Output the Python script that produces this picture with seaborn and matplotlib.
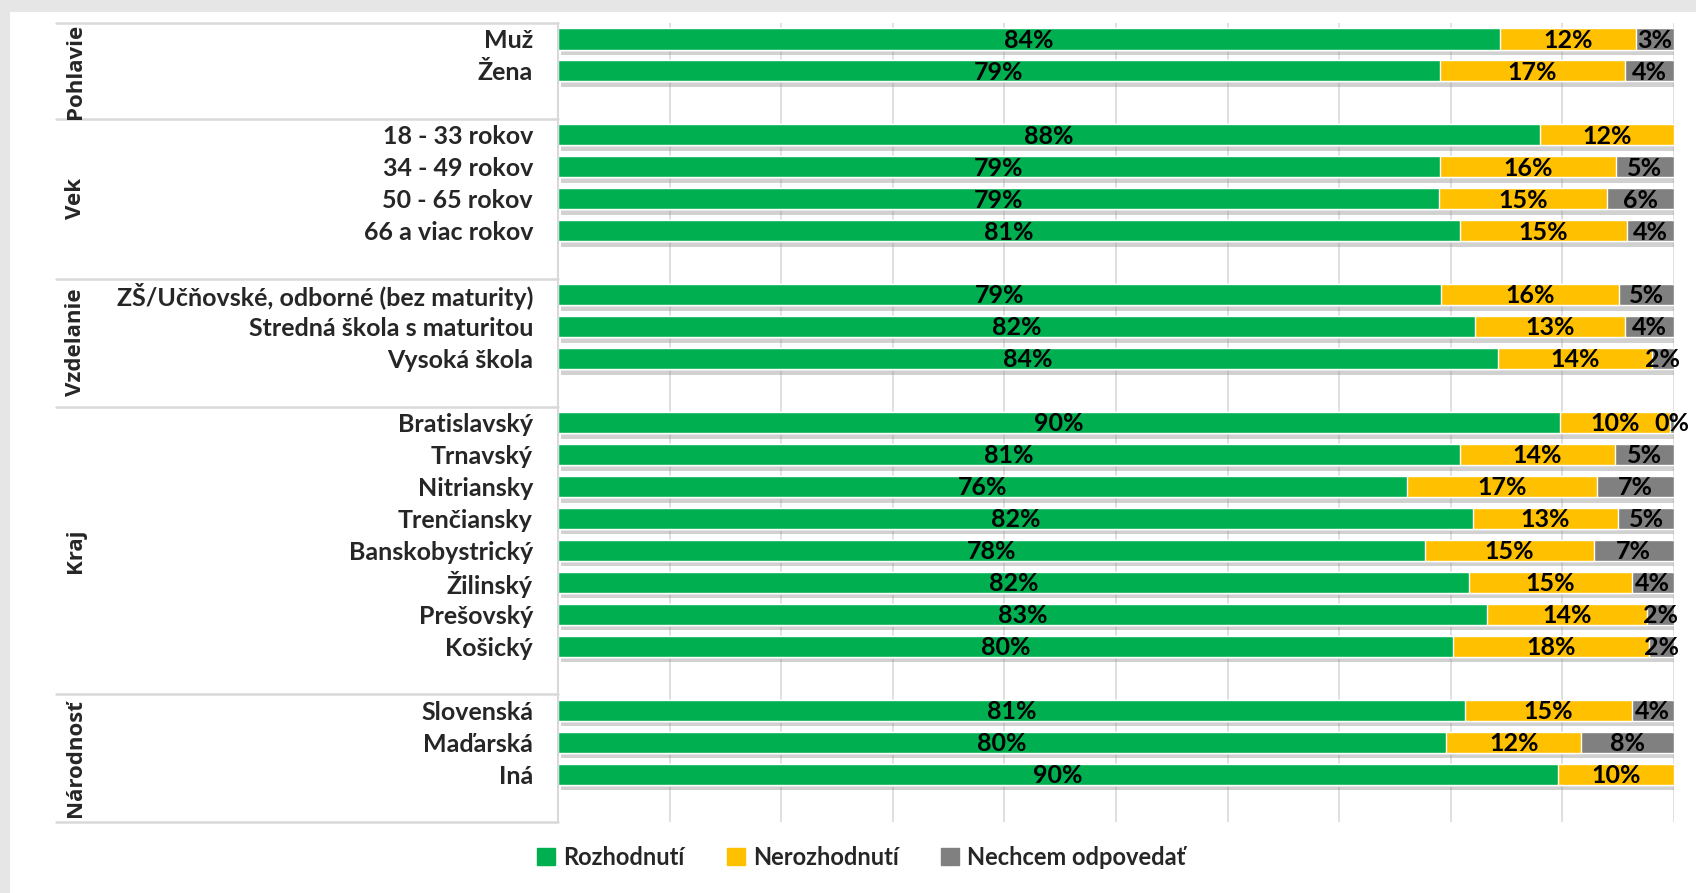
import pandas as pd
import matplotlib.pyplot as plt
import matplotlib.patheffects as pe
from matplotlib.patches import Rectangle
import seaborn as sns

sns.set_theme(style="white")
plt.rcParams['font.family'] = ['Lato', 'DejaVu Sans']

# rows per group (None = empty slot between groups)
groups = ['Pohlavie', 'Vek', 'Vzdelanie', 'Kraj', 'Národnosť']
rows = ['Muž', 'Žena', None,
        '18 - 33 rokov', '34 - 49 rokov', '50 - 65 rokov', '66 a viac rokov', None,
        'ZŠ/Učňovské, odborné (bez maturity)', 'Stredná škola s maturitou', 'Vysoká škola', None,
        'Bratislavský', 'Trnavský', 'Nitriansky', 'Trenčiansky', 'Banskobystrický',
        'Žilinský', 'Prešovský', 'Košický', None,
        'Slovenská', 'Maďarská', 'Iná', None]
group_sizes = [3, 5, 4, 9, 4]

rozhodnuti = [84.4, 79.0, 88.0, 79.0, 78.9, 80.8, 79.1, 82.2, 84.2,
              89.8, 80.8, 76.1, 82.0, 77.7, 81.6, 83.2, 80.2, 81.3, 79.6, 89.6]
nerozhodnuti = [12.2, 16.6, 12.0, 15.8, 15.1, 15.0, 16.0, 13.4, 13.8,
                9.8, 13.9, 17.0, 13.0, 15.1, 14.6, 14.4, 17.6, 14.9, 12.1, 10.4]
nechcem = [3.4, 4.4, 0.0, 5.2, 6.0, 4.2, 4.9, 4.4, 2.0,
           0.4, 5.3, 6.9, 5.0, 7.2, 3.8, 2.4, 2.2, 3.8, 8.3, 0.0]

series = ['Rozhodnutí', 'Nerozhodnutí', 'Nechcem odpovedať']
colors = ['#00B050', '#FFC000', '#808080']

# slot names (gaps get unique names so seaborn keeps them as empty categories)
slots = [r if r is not None else f'_gap{i}' for i, r in enumerate(rows)]
labels = [r for r in rows if r is not None]
df = pd.DataFrame({'row': labels, 'g': rozhodnuti, 'y': nerozhodnuti, 'n': nechcem})
df['gy'] = df['g'] + df['y']
df['gyn'] = df['gy'] + df['n']

fig = plt.figure(figsize=(16.96, 8.93), dpi=100, facecolor='#e6e6e6')
fig.patches.append(Rectangle((10 / 1696, 0), 1, 1 - 12 / 893, transform=fig.transFigure,
                             facecolor='white', edgecolor='none', zorder=-5))
ax = fig.add_axes([558 / 1696, 1 - 822 / 893, 1116 / 1696, (822 - 23) / 893])
ax.set_facecolor('none')

sns.barplot(data=df, y='row', x='gyn', order=slots, color=colors[2], width=0.66,
            saturation=1, ax=ax, orient='h')
for p in ax.patches:
    p.set_path_effects([pe.SimplePatchShadow(offset=(2, -4), shadow_rgbFace='#9a9a9a', alpha=0.45),
                        pe.Normal()])
sns.barplot(data=df, y='row', x='gy', order=slots, color=colors[1], width=0.66,
            saturation=1, ax=ax, orient='h')
sns.barplot(data=df, y='row', x='g', order=slots, color=colors[0], width=0.66,
            saturation=1, ax=ax, orient='h')

# value labels
for _, r in df.iterrows():
    yi = slots.index(r['row'])
    segs = [(0, r['g']), (r['g'], r['y']), (r['gy'], r['n'])]
    for k, (start, w) in enumerate(segs):
        if k == 2 and w == 0:
            continue
        ax.text(start + w / 2, yi + 0.04, f"{round(w)}%", ha='center', va='center',
                fontsize=18, fontweight='bold', color='black', zorder=5)

ax.set_xlim(0, 100)
ax.set_ylim(len(slots) - 0.5, -0.5)
ax.set_xticks(range(0, 101, 10))
ax.set_xticklabels([])
ax.tick_params(axis='x', length=0)
ax.xaxis.grid(True, color='#d9d9d9', linewidth=1.2)
ax.set_axisbelow(True)
ax.set_yticks(range(len(slots)))
ax.set_yticklabels([r if r is not None else '' for r in rows], fontsize=18, fontweight='bold')
ax.tick_params(axis='y', length=0, pad=18)
ax.set_xlabel('')
ax.set_ylabel('')
for s in ['top', 'right', 'bottom']:
    ax.spines[s].set_visible(False)
ax.spines['left'].set_color('#d9d9d9')
ax.spines['left'].set_linewidth(1.5)

# group separators and rotated group names
trans = ax.get_yaxis_transform()
start = -0.5
for name, size in zip(groups, group_sizes):
    ax.plot([-0.45, 0], [start, start], transform=trans, color='#d9d9d9', lw=1.8, clip_on=False)
    ax.text(-0.432, start + size / 2, name, transform=trans, rotation=90,
            ha='center', va='center', fontsize=16, fontweight='bold', family='Open Sans')
    start += size
ax.plot([-0.45, 0], [start, start], transform=trans, color='#d9d9d9', lw=1.8, clip_on=False)

handles = [Rectangle((0, 0), 1, 1, color=c) for c in colors]
fig.legend(handles, series, loc='center', bbox_to_anchor=(0.508, 0.04), ncol=3,
           frameon=False, handlelength=0.75, handleheight=0.75, handletextpad=0.35,
           columnspacing=1.8, prop={'size': 17, 'weight': 'bold'})

fig.savefig('out.png', dpi=100)
